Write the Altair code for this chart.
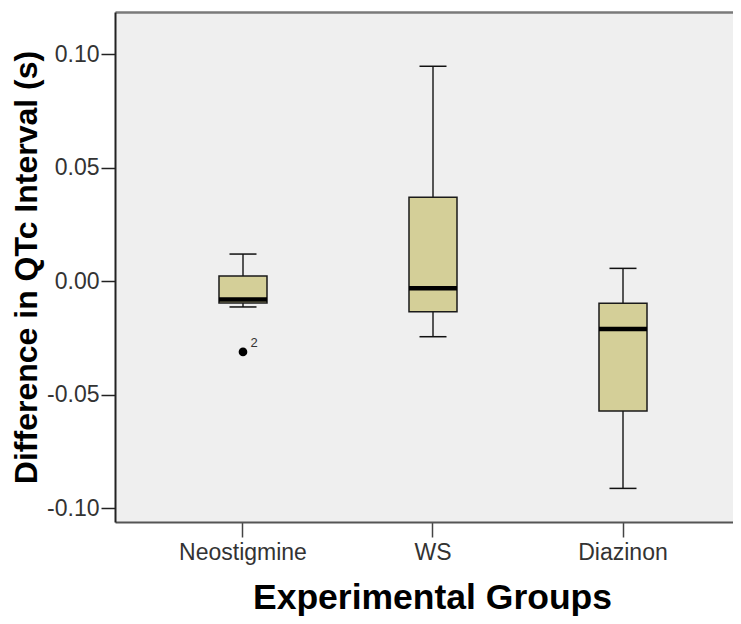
import altair as alt
import pandas as pd

# ---- data ----
groups = ["Neostigmine", "WS", "Diazinon"]
whisker_low = [-0.0113, -0.0244, -0.0912]
q1 = [-0.0096, -0.0134, -0.0571]
median = [-0.0080, -0.0031, -0.0210]
q3 = [0.0023, 0.0370, -0.0097]
whisker_high = [0.0120, 0.0947, 0.0057]

outlier_group = ["Neostigmine"]
outlier_value = [-0.0311]
outlier_label = ["2"]

y_ticks = [-0.10, -0.05, 0.00, 0.05, 0.10]

df = pd.DataFrame({
    "group": groups, "lo": whisker_low, "q1": q1, "med": median,
    "q3": q3, "hi": whisker_high,
})
out = pd.DataFrame({"group": outlier_group, "v": outlier_value, "lab": outlier_label})

FONT = "Liberation Sans"
FILL = "#d4cf98"

xscale = alt.Scale(domain=groups, paddingInner=0, paddingOuter=0.1263, align=0.6875)
yscale = alt.Scale(domain=[-0.106, 0.1186], nice=False, zero=False)

x_bottom = alt.X("group:N", scale=xscale, sort=groups, axis=alt.Axis(
    title="Experimental Groups", labelAngle=0, labelFont=FONT, labelFontSize=23,
    labelColor="#333333", labelPadding=4, tickSize=15, tickColor="#444444",
    tickWidth=1.5, domainColor="#555555", domainWidth=2,
    titleFont=FONT, titleFontSize=35.5, titleFontWeight="bold", titleColor="#000000",
    titlePadding=16, titleX=317))
x_none = alt.X("group:N", scale=xscale, sort=groups, axis=None)
x_top = alt.X("group:N", scale=xscale, sort=groups, axis=alt.Axis(
    orient="top", labels=False, ticks=False, title=None,
    domainColor="#7a7a7a", domainWidth=2.5))

y_axis = alt.Axis(
    values=y_ticks, format=".2f", labelExpr="replace(datum.label, '\u2212', '-')",
    title="Difference in QTc Interval (s)",
    labelFont=FONT, labelFontSize=23, labelColor="#333333", labelPadding=2,
    tickSize=14, tickColor="#222222", tickWidth=1.5, domainColor="#222222",
    domainWidth=2, grid=False, titleFont=FONT, titleFontSize=32,
    titleFontWeight="bold", titleColor="#000000", titlePadding=3)


def Y(field):
    return alt.Y(field, scale=yscale, axis=y_axis)


base = alt.Chart(df)

whisk_low = base.mark_rule(color="#555555", strokeWidth=2).encode(
    x=x_none, y=Y("lo:Q"), y2="q1:Q")
whisk_high = base.mark_rule(color="#555555", strokeWidth=2).encode(
    x=x_none, y=Y("q3:Q"), y2="hi:Q")
cap_low = base.mark_tick(color="#111111", size=27, thickness=1.5, opacity=1).encode(
    x=x_none, y=Y("lo:Q"))
cap_high = base.mark_tick(color="#111111", size=27, thickness=1.5, opacity=1).encode(
    x=x_none, y=Y("hi:Q"))
box = base.mark_bar(size=48, fill=FILL, stroke="#1a1a1a", strokeWidth=1.5, opacity=1).encode(
    x=x_bottom, y=Y("q1:Q"), y2="q3:Q")
med = base.mark_tick(color="#000000", size=48, thickness=4.5, opacity=1).encode(
    x=x_none, y=Y("med:Q"))
top_border = base.mark_rule(opacity=0).encode(
    x=x_top, y=Y("med:Q"))

pt = alt.Chart(out).mark_circle(size=75, color="#000000", opacity=1).encode(
    x=x_none, y=Y("v:Q"))
lab = alt.Chart(out).mark_text(font=FONT, fontSize=13, color="#333333",
                               dx=11, dy=-9, align="center").encode(
    x=x_none, y=Y("v:Q"), text="lab:N")

chart = alt.layer(
    top_border, whisk_low, whisk_high, cap_low, cap_high, box, med, pt, lab
).resolve_axis(x="independent", y="shared").properties(
    width=618, height=510,
    autosize=alt.AutoSizeParams(type="none"),
    padding={"left": 107, "top": 4, "right": 0, "bottom": 94},
    background="#ffffff",
).configure_view(fill="#efefef", stroke=None)

chart.save("out.html", embed_options={"renderer": "svg", "actions": False})
